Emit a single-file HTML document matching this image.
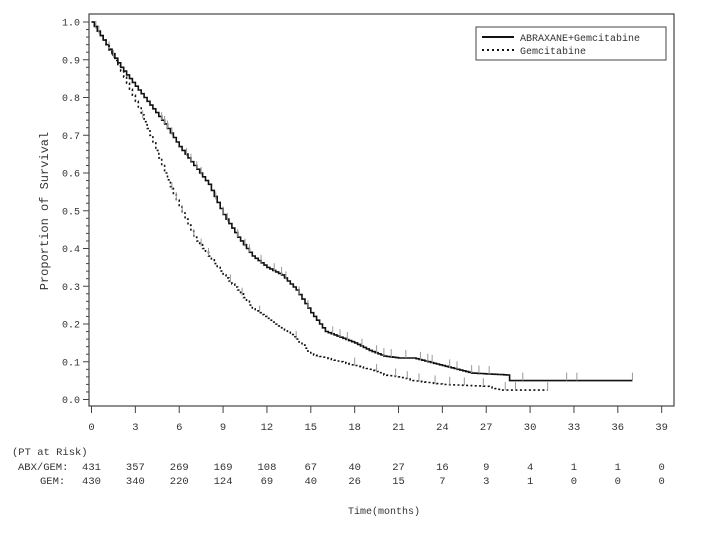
<!DOCTYPE html>
<html><head><meta charset="utf-8"><style>
body{margin:0;background:#fff}
svg text{font-family:"Liberation Mono",monospace;fill:#333}
</style></head><body>
<svg id="s" width="711" height="529" xmlns="http://www.w3.org/2000/svg">
<rect x="89" y="14" width="585" height="392" fill="none" stroke="#444" stroke-width="1.2"/>
<g id="ax"></g>
<g id="cur"></g>
<rect x="476" y="27" width="190" height="33" fill="#fff" stroke="#444" stroke-width="1"/>
<line x1="482" y1="37" x2="514" y2="37" stroke="#111" stroke-width="2"/>
<line x1="482" y1="50" x2="514" y2="50" stroke="#111" stroke-width="2" stroke-dasharray="2,3"/>
<text x="520" y="41" font-size="10">ABRAXANE+Gemcitabine</text>
<text x="520" y="54" font-size="10">Gemcitabine</text>
<text transform="translate(48,211) rotate(-90)" font-size="12" text-anchor="middle">Proportion of Survival</text>
<text x="12" y="455" font-size="10.5">(PT at Risk)</text>
<text x="18" y="470" font-size="10.5">ABX/GEM:</text>
<text x="40" y="484" font-size="10.5">GEM:</text>
<text x="384" y="514" font-size="10" text-anchor="middle">Time(months)</text>
</svg>
<script>
var NS="http://www.w3.org/2000/svg",ax=document.getElementById("ax"),cur=document.getElementById("cur");
function X(m){return 91.5+m*14.62}function Y(v){return 399.5-v*377.5}
function el(t,a,p,txt){var e=document.createElementNS(NS,t);for(var k in a)e.setAttribute(k,a[k]);if(txt!=null)e.textContent=txt;p.appendChild(e);return e}
for(var i=0;i<=50;i++){var y=Y(i/50),maj=i%5==0;el("line",{x1:maj?83:86,x2:89,y1:y,y2:y,stroke:"#444"},ax);
if(maj)el("text",{x:80,y:y+3.5,"font-size":10,"text-anchor":"end"},ax,(i/50).toFixed(1));}
var a=[431,357,269,169,108,67,40,27,16,9,4,1,1,0],g=[430,340,220,124,69,40,26,15,7,3,1,0,0,0];
for(var m=0;m<=39;m+=3){var x=X(m),j=m/3;el("line",{x1:x,x2:x,y1:406,y2:413,stroke:"#444"},ax);
el("text",{x:x,y:430,"font-size":10.5,"text-anchor":"middle"},ax,m);
el("text",{x:x,y:470,"font-size":10.5,"text-anchor":"middle"},ax,a[j]);
el("text",{x:x,y:484,"font-size":10.5,"text-anchor":"middle"},ax,g[j]);}
var A=[[0,1],[1,.94],[2,.88],[3,.83],[4,.78],[5,.73],[6,.67],[7,.62],[8,.57],[9,.49],[10,.43],[11,.38],[12,.35],[13,.33],[14,.29],[15,.23],[16,.18],[17,.165],[18,.15],[19,.13],[20,.115],[21,.11],[22,.11],[23,.1],[24,.09],[25,.08],[26,.07],[28.4,.065],[28.5,.05],[37,.05]];
var G=[[0,1],[1,.94],[2,.87],[3,.79],[4,.70],[5,.60],[6,.51],[7,.43],[8,.38],[9,.33],[10,.29],[11,.24],[12,.215],[13,.19],[14,.16],[15,.12],[16,.11],[17,.1],[18,.09],[19,.08],[20,.065],[21,.06],[22,.05],[24,.04],[27,.035],[28,.025],[31.3,.025]];
function interp(P,m){for(var i=1;i<P.length;i++)if(m<=P[i][0]){var t=(m-P[i-1][0])/(P[i][0]-P[i-1][0]);return P[i-1][1]+t*(P[i][1]-P[i-1][1])}return P[P.length-1][1]}
function draw(P,dash,cens){var end=P[P.length-1][0],d="M"+X(0)+","+Y(1);
for(var m=0.2;m<=end+1e-6;m+=0.2){var v=interp(P,m);d+=" H"+X(m).toFixed(1)+" V"+Y(v).toFixed(1)}
var at={stroke:"#111","stroke-width":1.6,fill:"none",d:d};if(dash)at["stroke-dasharray"]="2,2.5";el("path",at,cur);
cens.forEach(function(m){var y=Y(interp(P,m));el("line",{x1:X(m),x2:X(m),y1:y-8,y2:y,stroke:"#999","stroke-width":1},cur)})}
var cA=[0.3,1.2,4.8,5,5.2,5.5,6.5,6.8,7.2,7.5,8.5,9,9.3,10,10.5,10.8,11.6,12.5,13,13.3,14.2,14.8,16.5,17,17.5,18.5,19.5,20,20.5,21.5,22.5,23,23.3,24.5,25,26,26.5,27.2,29.5,32.5,33.2,37];
var cG=[0.5,1.5,3.5,5.5,5.8,6.2,7,7.5,8,9.5,10.3,11.5,14,18,19.5,20.8,21.6,22.4,23.5,24.5,25.5,26.8,28.3,29,31.2];
draw(A,false,cA);draw(G,true,cG);
</script>
</body></html>
